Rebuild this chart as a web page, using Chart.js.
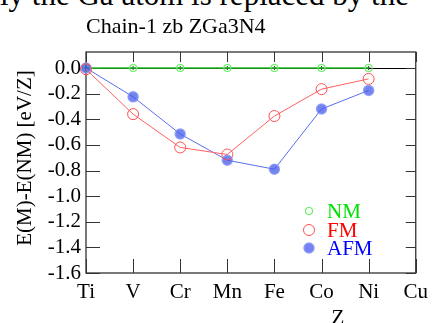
<!DOCTYPE html>
<html>
<head>
<meta charset="UTF-8">
<title>Chain-1 zb ZGa3N4</title>
<script src="https://cdn.jsdelivr.net/npm/chart.js"></script>
<style>
    body { margin: 0; background: #fff; }
    #wrap { position: relative; width: 435px; height: 323px; overflow: hidden; }
    #paperText {
        position: absolute; left: 0px; top: -23px;
        font-family: "Liberation Serif", serif; font-size: 31px;
        white-space: nowrap; color: #000;
    }
    canvas { position: absolute; left: 0; top: 0; }
</style>
</head>
<body>
<div id="wrap">
    <div id="paperText">ly the Ga atom is replaced by the</div>
    <canvas id="chartCanvas" width="435" height="323"></canvas>
</div>
<script>
    const elements = ['Ti', 'V', 'Cr', 'Mn', 'Fe', 'Co', 'Ni', 'Cu'];
    const nmVals  = [0, 0, 0, 0, 0, 0, 0];
    const fmVals  = [-0.01, -0.36, -0.62, -0.675, -0.375, -0.165, -0.085];
    const afmVals = [0, -0.225, -0.515, -0.72, -0.79, -0.32, -0.175];
    const legendNames = ['NM', 'FM', 'AFM'];
    const legendColors = ['#00e000', '#ff0000', '#0000ff'];

    const serif = '"Liberation Serif", "Times New Roman", serif';

    // frame, inward ticks, zero line, title, legend
    const decor = {
        id: 'decor',
        beforeDatasetsDraw(chart) {
            const ctx = chart.ctx;
            const a = chart.chartArea;
            const xs = chart.scales.x, ys = chart.scales.y;
            ctx.save();
            // zero line
            ctx.strokeStyle = '#000';
            ctx.lineWidth = 1;
            const y0 = Math.round(ys.getPixelForValue(0)) + 0.5;
            ctx.beginPath(); ctx.moveTo(a.left, y0); ctx.lineTo(a.right, y0); ctx.stroke();
            // frame
            ctx.strokeStyle = '#333';
            ctx.lineWidth = 1.3;
            ctx.strokeRect(a.left, a.top, a.right - a.left, a.bottom - a.top);
            // ticks
            ctx.lineWidth = 1;
            ctx.beginPath();
            elements.forEach((e, i) => {
                const x = Math.round(xs.getPixelForValue(i)) + 0.5;
                ctx.moveTo(x, a.bottom); ctx.lineTo(x, a.bottom - 14);
                ctx.moveTo(x, a.top); ctx.lineTo(x, a.top + 10);
            });
            ys.ticks.forEach(t => {
                const y = Math.round(ys.getPixelForValue(t.value)) + 0.5;
                ctx.moveTo(a.left, y); ctx.lineTo(a.left + 14, y);
                ctx.moveTo(a.right, y); ctx.lineTo(a.right - 10, y);
            });
            ctx.stroke();
            ctx.restore();
        },
        afterDraw(chart) {
            const ctx = chart.ctx;
            ctx.save();
            ctx.fillStyle = '#000';
            ctx.font = '22px ' + serif;
            ctx.textBaseline = 'alphabetic';
            ctx.textAlign = 'left';
            ctx.fillText('Chain-1 zb ZGa3N4', 86, 33);
            // axis titles
            ctx.font = '21px ' + serif;
            ctx.textAlign = 'center';
            ctx.fillText('Z', 338, 324);
            ctx.translate(31, 158);
            ctx.rotate(-Math.PI / 2);
            ctx.fillText('E(M)-E(NM) [eV/Z]', 0, 0);
            ctx.restore();

            // legend
            ctx.save();
            const ds = chart.data.datasets;
            const lx = 309, ly = [211, 230, 248];
            legendNames.forEach((name, i) => {
                const d = ds[i];
                ctx.beginPath();
                ctx.arc(lx, ly[i], d.pointRadius, 0, Math.PI * 2);
                ctx.fillStyle = d.pointBackgroundColor;
                ctx.fill();
                ctx.lineWidth = d.pointBorderWidth;
                ctx.strokeStyle = d.pointBorderColor;
                ctx.stroke();
                ctx.fillStyle = legendColors[i];
                ctx.font = '21px ' + serif;
                ctx.textAlign = 'left';
                ctx.textBaseline = 'middle';
                ctx.fillText(name, 327, ly[i] + 1);
            });
            ctx.restore();
        }
    };

    const ctx = document.getElementById('chartCanvas').getContext('2d');
    new Chart(ctx, {
        type: 'line',
        data: {
            labels: elements,
            datasets: [
                {
                    label: 'NM',
                    data: nmVals,
                    borderColor: '#22bb22',
                    borderWidth: 1.5,
                    pointRadius: 3.5,
                    pointBackgroundColor: 'rgba(0,0,0,0)',
                    pointBorderColor: '#66ee66',
                    pointBorderWidth: 1.2,
                    clip: false,
                    order: 3
                },
                {
                    label: 'FM',
                    data: fmVals,
                    borderColor: '#ff6060',
                    borderWidth: 1,
                    pointRadius: 5.5,
                    pointBackgroundColor: 'rgba(0,0,0,0)',
                    pointBorderColor: '#ff5050',
                    pointBorderWidth: 1,
                    clip: false,
                    order: 1
                },
                {
                    label: 'AFM',
                    data: afmVals,
                    borderColor: '#5a6ef0',
                    borderWidth: 1,
                    pointRadius: 5,
                    pointBackgroundColor: 'rgba(70,90,235,0.75)',
                    pointBorderColor: 'rgba(130,150,245,0.8)',
                    pointBorderWidth: 1.5,
                    clip: false,
                    order: 2
                },
                {
                    label: 'NM cross',
                    data: nmVals,
                    showLine: false,
                    pointStyle: 'cross',
                    pointRadius: 2,
                    pointBorderColor: '#333',
                    pointBorderWidth: 1,
                    clip: false,
                    order: 4
                }
            ]
        },
        options: {
            responsive: false,
            animation: false,
            events: [],
            layout: { padding: { top: 52, right: 14, left: 0, bottom: 0 } },
            plugins: { legend: { display: false }, title: { display: false }, tooltip: { enabled: false } },
            scales: {
                x: {
                    offset: false,
                    grid: { drawOnChartArea: false, drawTicks: false },
                    border: { display: false },
                    ticks: {
                        color: '#000', font: { family: serif, size: 21 },
                        padding: 7, maxRotation: 0, autoSkip: false
                    },
                    afterFit(scale) { scale.height = 50; }
                },
                y: {
                    min: -1.6,
                    max: 0.125,
                    grid: { drawOnChartArea: false, drawTicks: false },
                    border: { display: false },
                    ticks: {
                        stepSize: 0.2,
                        includeBounds: false,
                        autoSkip: false,
                        color: '#000', font: { family: serif, size: 21 },
                        padding: 5,
                        callback: v => (Math.abs(v) < 1e-9 ? 0 : v).toFixed(1)
                    },
                    afterFit(scale) { scale.width = 86; }
                }
            }
        },
        plugins: [decor]
    });
</script>
</body>
</html>
